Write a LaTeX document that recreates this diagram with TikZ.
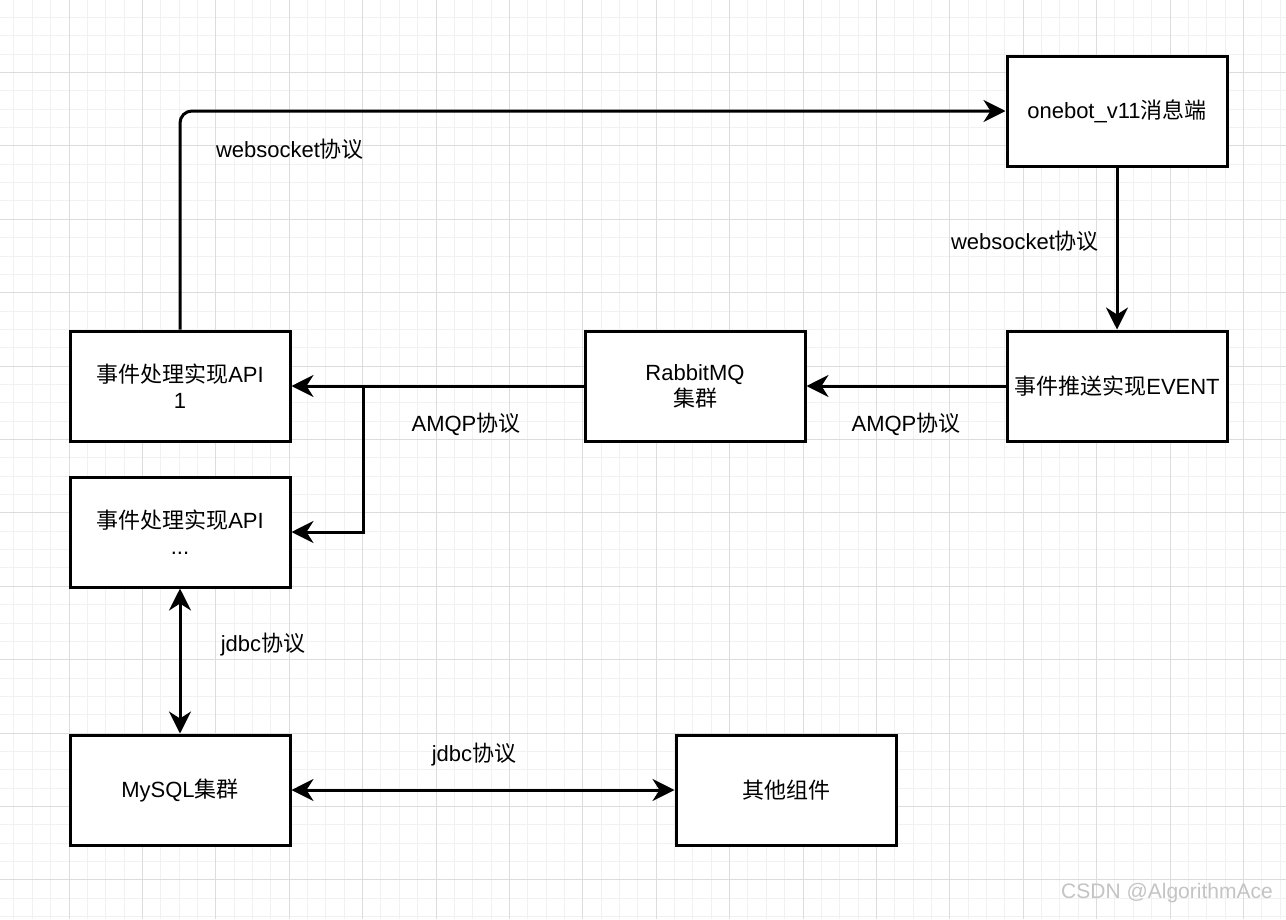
\documentclass[tikz,border=0pt]{standalone}
\usepackage{fontspec}
\setmainfont{Liberation Sans}
\newfontfamily\cjk{Noto Sans CJK SC}
\usetikzlibrary{arrows.meta}

\definecolor{gridminor}{HTML}{F1F1F1}
\definecolor{gridmajor}{HTML}{DCDCDC}
\definecolor{markgray}{HTML}{C4C4C4}

\begin{document}
\begin{tikzpicture}[
    x=1pt, y=-1pt,
    >={Stealth[length=22pt, width=22pt, inset=7pt]}, % draw.io style arrow tip
    font=\fontsize{22}{26}\selectfont,
    box/.style={draw, line width=3pt, fill=white, minimum width=220pt,
        minimum height=110pt, align=center, inner sep=0pt}, % component boxes
    conn/.style={->, line width=3pt}, % connectors
    lbl/.style={inner sep=0pt} % protocol labels
]

    \useasboundingbox (0,0) rectangle (1286,919);
    \fill[white] (0,0) rectangle (1286,919);

    % Background grid (minor lines, then major lines)
    \foreach \k in {-3,...,66}
        \draw[gridminor, line width=1pt] ({69+\k*18.35},0) -- ({69+\k*18.35},919);
    \foreach \k in {-3,...,46}
        \draw[gridminor, line width=1pt] (0,{72.5+\k*18.35}) -- (1286,{72.5+\k*18.35});
    \foreach \m in {0,...,16}
        \draw[gridmajor, line width=1pt] ({69+\m*73.4},0) -- ({69+\m*73.4},919);
    \foreach \m in {0,...,11}
        \draw[gridmajor, line width=1pt] (0,{72.5+\m*73.4}) -- (1286,{72.5+\m*73.4});

    % Components
    \node[box] (onebot) at (1117,111) {onebot\_v11{\cjk 消息端}};
    \node[box] (event)  at (1117,386) {{\cjk 事件推送实现}EVENT};
    \node[box] (rabbit) at (695,386)  {RabbitMQ\\{\cjk 集群}};
    \node[box] (api1)   at (180,386)  {{\cjk 事件处理实现}API\\1};
    \node[box] (apin)   at (180,532)  {{\cjk 事件处理实现}API\\...};
    \node[box] (mysql)  at (180,790)  {MySQL{\cjk 集群}};
    \node[box] (other)  at (786,790)  {{\cjk 其他组件}};

    % Connectors
    \draw[conn, rounded corners=12pt] (api1.north) |- (onebot.west);
    \draw[conn] (onebot.south) -- (event.north);
    \draw[conn] (event.west) -- (rabbit.east);
    \draw[conn] (rabbit.west) -- (api1.east);
    \coordinate (split) at (363,386);
    \draw[conn] (split) |- (apin.east);
    \draw[conn, <->] (apin.south) -- (mysql.north);
    \draw[conn, <->] (mysql.east) -- (other.west);

    % Protocol labels
    \node[lbl] (wsTop)     at (290,149)  {websocket{\cjk 协议}};
    \node[lbl] (wsRight)   at (1025,241) {websocket{\cjk 协议}};
    \node[lbl] (amqpLeft)  at (466,424)  {AMQP{\cjk 协议}};
    \node[lbl] (amqpRight) at (906,424)  {AMQP{\cjk 协议}};
    \node[lbl] (jdbcV)     at (263,645)  {jdbc{\cjk 协议}};
    \node[lbl] (jdbcH)     at (474,755)  {jdbc{\cjk 协议}};

    % Watermark
    \node[lbl, markgray, font=\fontsize{21}{24}\selectfont] (mark) at (1167,893) {CSDN @AlgorithmAce};

\end{tikzpicture}
\end{document}
